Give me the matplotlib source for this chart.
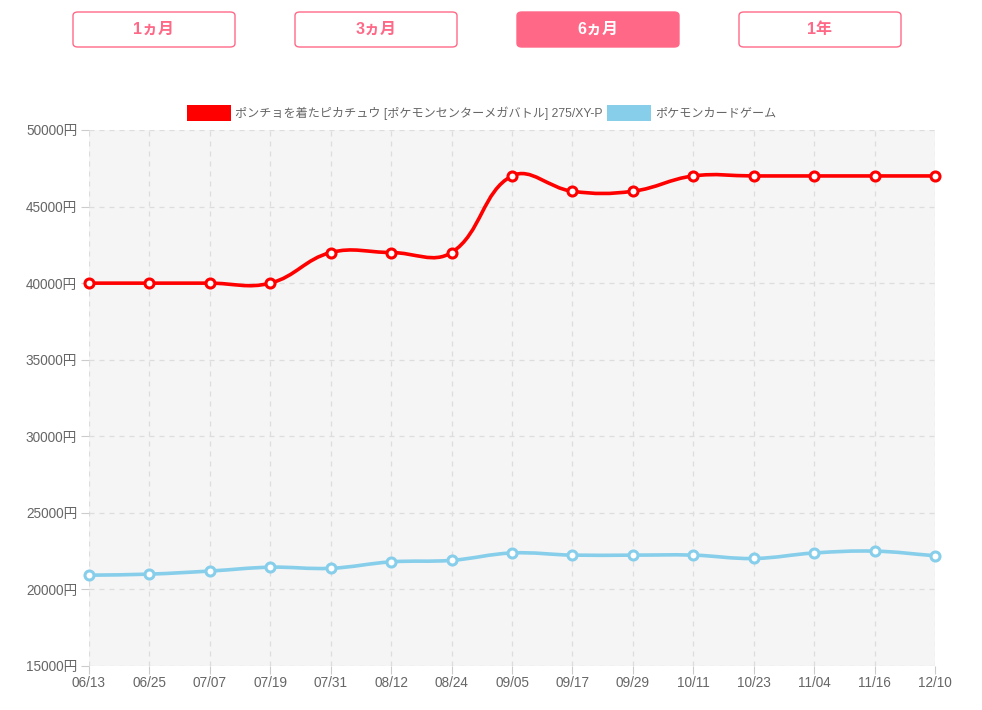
import numpy as np
import matplotlib
matplotlib.use("Agg")
import matplotlib.pyplot as plt
from matplotlib.path import Path
from matplotlib.patches import PathPatch, FancyBboxPatch, Rectangle

plt.rcParams['font.family'] = ['Liberation Sans', 'Noto Sans CJK JP', 'DejaVu Sans']

# data
dates = ["06/13", "06/25", "07/07", "07/19", "07/31", "08/12", "08/24", "09/05",
         "09/17", "09/29", "10/11", "10/23", "11/04", "11/16", "12/10"]
card_prices = [40000, 40000, 40000, 40000, 42000, 42000, 42000, 47000,
               46000, 46000, 47000, 47000, 47000, 47000, 47000]
game_prices = [20930, 21000, 21200, 21450, 21380, 21800, 21900, 22380,
               22240, 22240, 22240, 22020, 22380, 22500, 22200]
series_names = ["ポンチョを着たピカチュウ [ポケモンセンターメガバトル] 275/XY-P", "ポケモンカードゲーム"]
series_colors = ["#ff0000", "#87ceeb"]
buttons = ["1ヵ月", "3ヵ月", "6ヵ月", "1年"]
active_button = 2

W, H = 982, 710
fig = plt.figure(figsize=(W / 100, H / 100), dpi=100)
fig.patch.set_facecolor("white")


def fx(px):
    return px / W


def fy(py):
    return 1 - py / H


ax = fig.add_axes([fx(89), fy(666), fx(935) - fx(89), fy(130) - fy(666)])
ax.set_facecolor("#f5f5f5")
x = np.arange(len(dates))
ax.set_xlim(0, len(dates) - 1)
ax.set_ylim(15000, 50000)
ax.set_xticks(x)
ax.set_xticklabels(dates)
yt = np.arange(15000, 50001, 5000)
ax.set_yticks(yt)
ax.set_yticklabels([f"{v}円" for v in yt])
ax.tick_params(colors="#cccccc", labelcolor="#666666", labelsize=9.8, length=6, width=0.8)
ax.tick_params(axis="y", pad=2.5)
ax.tick_params(axis="x", pad=1)
ax.grid(True, color="#dddddd", linestyle=(0, (4, 4)), linewidth=0.9)
for s in ax.spines.values():
    s.set_visible(False)


def spline_path(xs, ys, tension=0.4):
    # bezier control points like chart.js, computed in pixel space
    pts = ax.transData.transform(np.column_stack([xs, ys]))
    n = len(pts)
    cp_prev, cp_next = [], []
    for i in range(n):
        p0 = pts[i - 1] if i > 0 else pts[i]
        p1 = pts[i]
        p2 = pts[i + 1] if i < n - 1 else pts[i]
        d01 = np.hypot(*(p1 - p0))
        d12 = np.hypot(*(p2 - p1))
        tot = d01 + d12
        s01 = d01 / tot if tot else 0
        s12 = d12 / tot if tot else 0
        cp_prev.append(p1 - tension * s01 * (p2 - p0))
        cp_next.append(p1 + tension * s12 * (p2 - p0))
    verts = [pts[0]]
    codes = [Path.MOVETO]
    for i in range(1, n):
        verts += [cp_next[i - 1], cp_prev[i], pts[i]]
        codes += [Path.CURVE4] * 3
    verts = ax.transData.inverted().transform(np.array(verts))
    return Path(verts, codes)


for vals, col in zip([card_prices, game_prices], series_colors):
    ax.add_patch(PathPatch(spline_path(x, vals), facecolor="none", edgecolor=col,
                           linewidth=2.6, zorder=3, clip_on=False))
    ax.plot(x, vals, linestyle="none", marker="o", markersize=6.5, markerfacecolor="white",
            markeredgecolor=col, markeredgewidth=2.2, zorder=4, clip_on=False)

# legend
leg_y = 113
for (x0, tx), name, col in zip([(187, 235), (607, 655)], series_names, series_colors):
    fig.patches.append(Rectangle((fx(x0), fy(leg_y + 8)), fx(44), 16 / H, transform=fig.transFigure,
                                 facecolor=col, edgecolor="none"))
    fig.text(fx(tx), fy(leg_y), name, fontsize=8.7, color="#666666", va="center", ha="left")

# period buttons
pink = "#ff6987"
for i, label in enumerate(buttons):
    x0 = 73 + i * 222
    active = i == active_button
    fig.patches.append(FancyBboxPatch((fx(x0), fy(47)), fx(162), 35 / H,
                                      boxstyle="round,pad=0,rounding_size=0.005",
                                      transform=fig.transFigure,
                                      facecolor=pink if active else "white",
                                      edgecolor=pink, linewidth=1))
    fig.text(fx(x0 + 81), fy(29.5), label, fontsize=11.5, fontweight="bold",
             color="white" if active else pink, ha="center", va="center")

fig.savefig("out.png", dpi=100)
